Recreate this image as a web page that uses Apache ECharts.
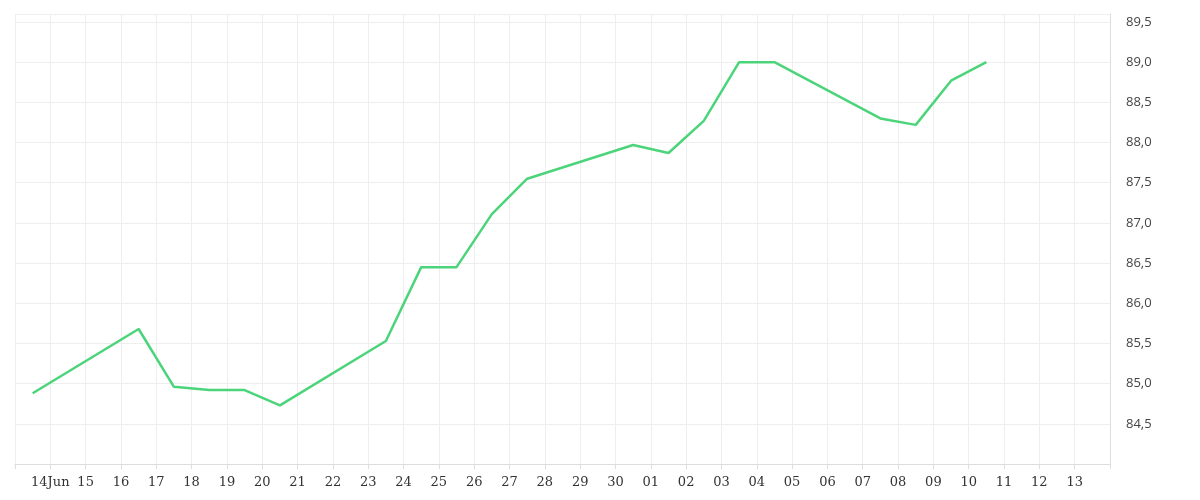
<!DOCTYPE html><html><head><meta charset="utf-8">
<script src="https://cdn.jsdelivr.net/npm/echarts@6/dist/echarts.min.js"></script>
<style>html,body{margin:0;background:#fff}#c{width:1200px;height:500px}</style></head><body><div id="c"></div>
<script>
const dayOffsets=[-0.5,2.5,3.5,4.5,5.5,6.5,9.5,10.5,11.5,12.5,13.5,16.5,17.5,18.5,19.5,20.5,23.5,24.5,25.5,26.5];
const values=[84.88,85.68,84.96,84.92,84.92,84.73,85.53,86.45,86.45,87.11,87.55,87.97,87.87,88.27,89.0,89.0,88.3,88.22,88.77,89.0];
const tickLabels=['14Jun','15','16','17','18','19','20','21','22','23','24','25','26','27','28','29','30','01','02','03','04','05','06','07','08','09','10','11','12','13'];
const chart=echarts.init(document.getElementById('c'));
chart.setOption({
 animation:false,
 grid:{left:15,right:90,top:14,bottom:36},
 xAxis:{type:'value',min:-1,max:30,interval:1,
  axisLine:{show:true,onZero:false,lineStyle:{color:'#ddd'}},axisTick:{show:true,lineStyle:{color:'#ddd'}},
  splitLine:{show:true,lineStyle:{color:'#eee'}},
  axisLabel:{fontFamily:'DejaVu Serif',fontSize:13,color:'#333',margin:12,
   formatter:v=>(v>=0&&v<tickLabels.length)?tickLabels[v]:''}},
 yAxis:{type:'value',position:'right',min:84,max:89.6,interval:0.5,
  axisLine:{show:true,onZero:false,lineStyle:{color:'#ddd'}},axisTick:{show:false},
  splitLine:{show:true,lineStyle:{color:'#eee'}},
  axisLabel:{fontFamily:'Open Sans',fontSize:13,color:'#444',margin:16,
   formatter:v=>(v<84.25||v>89.55)?'':v.toFixed(1).replace('.',',')}},
 series:[{type:'line',data:dayOffsets.map((d,i)=>[d,values[i]]),showSymbol:false,
  lineStyle:{color:'#4cd47a',width:2.5}}]
});
</script></body></html>
